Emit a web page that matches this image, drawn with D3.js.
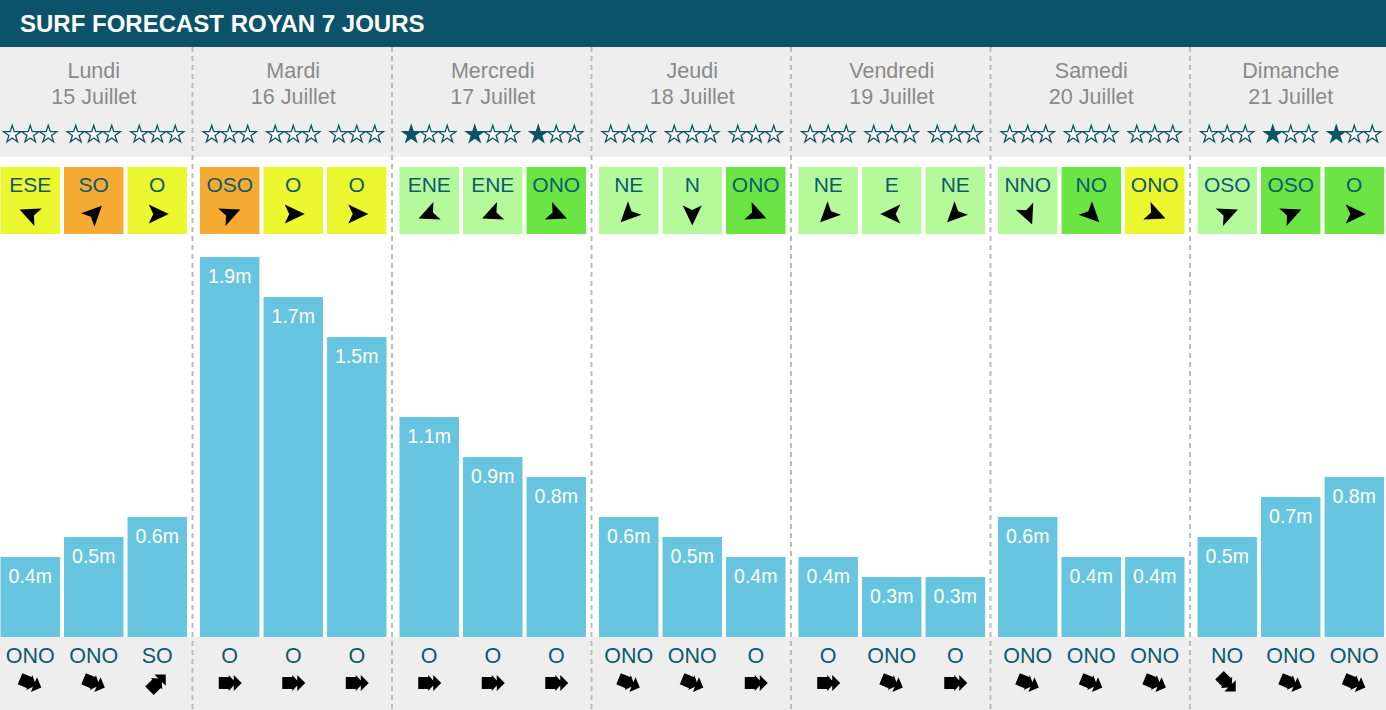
<!DOCTYPE html>
<html><head><meta charset="utf-8">
<script src="https://cdn.jsdelivr.net/npm/d3@7"></script>
<style>
html,body{margin:0;padding:0;background:#fff;overflow:hidden}
svg{display:block;font-family:"Liberation Sans",Arial,Helvetica,sans-serif}
</style></head>
<body>
<svg id="c" width="1386" height="710"></svg>
<script>
const title = "SURF FORECAST ROYAN 7 JOURS";
const dayNames = ["Lundi","Mardi","Mercredi","Jeudi","Vendredi","Samedi","Dimanche"];
const dayDates = ["15 Juillet","16 Juillet","17 Juillet","18 Juillet","19 Juillet","20 Juillet","21 Juillet"];
const slots = ["a","b","c"];
const waveHeights = [0.4,0.5,0.6, 1.9,1.7,1.5, 1.1,0.9,0.8, 0.6,0.5,0.4, 0.4,0.3,0.3, 0.6,0.4,0.4, 0.5,0.7,0.8];
const starsFilled = [0,0,0, 0,0,0, 1,1,1, 0,0,0, 0,0,0, 0,0,0, 0,1,1];
const windDir = ["ESE","SO","O", "OSO","O","O", "ENE","ENE","ONO", "NE","N","ONO", "NE","E","NE", "NNO","NO","ONO", "OSO","OSO","O"];
const windLevel = ["y","o","y", "o","y","y", "l","l","g", "l","l","g", "l","l","l", "l","g","y", "l","g","g"];
const swellDir = ["ONO","ONO","SO", "O","O","O", "O","O","O", "ONO","ONO","O", "O","ONO","O", "ONO","ONO","ONO", "NO","ONO","ONO"];

const compass = {N:0,NNE:22.5,NE:45,ENE:67.5,E:90,ESE:112.5,SE:135,SSE:157.5,S:180,SSO:202.5,SO:225,OSO:247.5,O:270,ONO:292.5,NO:315,NNO:337.5};
const windColors = {y:"#ebf72f",o:"#f5ab33",l:"#b4fa9a",g:"#6be543"};

const W = 1386, H = 710;
const svg = d3.select("#c");

// scales
const xDay = d3.scaleBand().domain(d3.range(7)).range([-7, 1389.5]).paddingInner(0).paddingOuter(0);
const xSlot = d3.scaleBand().domain(slots).range([7.5, 194]).paddingInner(0.064).paddingOuter(0);
const y = d3.scaleLinear().domain([0, 1.9]).range([637, 257]);

const items = waveHeights.map((h,i)=>({
  i, day: Math.floor(i/3), slot: slots[i%3], h,
  stars: starsFilled[i], wind: windDir[i], lvl: windLevel[i], swell: swellDir[i]
}));
const bx = d => xDay(d.day) + xSlot(d.slot);
const bw = xSlot.bandwidth();
const cx = d => bx(d) + bw/2;

// backgrounds
svg.append("rect").attr("x",0).attr("y",47).attr("width",W).attr("height",110).attr("fill","#eeeeee");
svg.append("rect").attr("x",0).attr("y",637).attr("width",W).attr("height",H-637).attr("fill","#eeeeee");
svg.append("rect").attr("x",0).attr("y",0).attr("width",W).attr("height",47).attr("fill","#0b5368");
svg.append("text").attr("x",20).attr("y",31.5).attr("fill","#fff").attr("font-size",24).attr("font-weight","bold").text(title);

// dividers
svg.append("g").selectAll("line").data(d3.range(1,7)).join("line")
  .attr("x1",d=>xDay(d)).attr("x2",d=>xDay(d)).attr("y1",47).attr("y2",H)
  .attr("stroke","#bcbcbc").attr("stroke-width",2).attr("stroke-dasharray","5,4");

// day headers
const hdr = svg.append("g").selectAll("g").data(d3.range(7)).join("g");
hdr.append("text").attr("x",d=>xDay(d)+7.5+(194-7.5)/2).attr("y",77.5).attr("text-anchor","middle")
  .attr("font-size",21.5).attr("fill","#8a8a8a").text(d=>dayNames[d]);
hdr.append("text").attr("x",d=>xDay(d)+7.5+(194-7.5)/2).attr("y",103.5).attr("text-anchor","middle")
  .attr("font-size",21.5).attr("fill","#8a8a8a").text(d=>dayDates[d]);

// stars
const starPath = d3.symbol().type(d3.symbolStar).size(92)();
const sg = svg.append("g");
items.forEach(d=>{
  for(let k=0;k<3;k++){
    sg.append("path").attr("d",starPath)
      .attr("transform",`translate(${cx(d)+(k-1)*18},${134.5})`)
      .attr("fill", k<d.stars ? "#0b5368" : "#fff")
      .attr("stroke","#0b5368").attr("stroke-width",1.3).attr("stroke-linejoin","miter");
  }
});

// wind cells
const wg = svg.append("g").selectAll("g").data(items).join("g");
wg.append("rect").attr("x",bx).attr("y",167).attr("width",bw).attr("height",67).attr("fill",d=>windColors[d.lvl]);
wg.append("text").attr("x",cx).attr("y",191.5).attr("text-anchor","middle").attr("font-size",21)
  .attr("fill","#0d5a70").text(d=>d.wind);
const navArrow = "M0,-11.5 L9.5,8.5 L0,4 L-9.5,8.5 Z";
wg.append("path").attr("d",navArrow).attr("fill","#000")
  .attr("transform",d=>`translate(${cx(d)},${214}) rotate(${compass[d.wind]+180})`);

// bars
const bg = svg.append("g").selectAll("g").data(items).join("g");
bg.append("rect").attr("x",bx).attr("y",d=>y(d.h)).attr("width",bw).attr("height",d=>y(0)-y(d.h)).attr("fill","#68c5df");
bg.append("text").attr("x",cx).attr("y",d=>y(d.h)+26).attr("text-anchor","middle").attr("font-size",19.5)
  .attr("fill","#fff").text(d=>d.h.toFixed(1)+"m");

// swell
const swArrow = "M-11,-6 L-1,-6 L-1,-8 L4,-2.5 L4,-8 L12,0 L4,8 L4,2.5 L-1,8 L-1,6 L-11,6 Z";
const gg = svg.append("g").selectAll("g").data(items).join("g");
gg.append("text").attr("x",cx).attr("y",662.5).attr("text-anchor","middle").attr("font-size",21.5)
  .attr("fill","#0d5a70").text(d=>d.swell);
gg.append("path").attr("d",swArrow).attr("fill","#000")
  .attr("transform",d=>`translate(${cx(d)},${683}) rotate(${compass[d.swell]+180-90})`);
</script>
</body></html>
